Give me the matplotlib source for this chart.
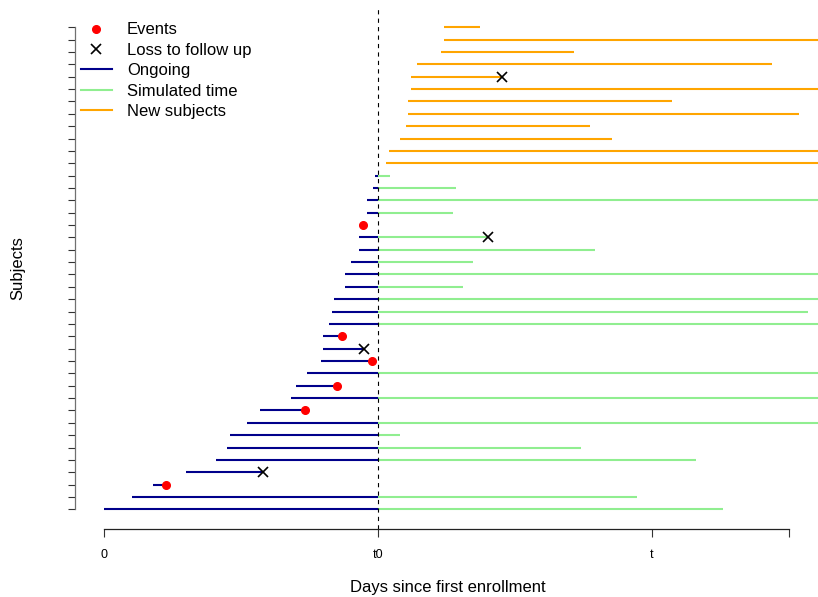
import numpy as np
import matplotlib
matplotlib.use("Agg")
import matplotlib.pyplot as plt
from matplotlib.lines import Line2D

plt.rcParams["font.family"] = ["Liberation Sans", "DejaVu Sans"]

# time axis (days since first enrollment)
t0 = 100
t_end = 200
axis_max = 250
xtick_pos = [0, t0, t_end, axis_max]
xtick_labels = ["0", "t0", "t", ""]

# subjects already enrolled at t0 (bottom row first)
obs_start = [0, 10.1, 18.0, 30.0, 41.0, 45.0, 46.0, 52.1, 57.1, 68.1,
             70.1, 74.2, 79.1, 80.0, 80.0, 82.0, 83.1, 84.1, 88.1, 88.1,
             90.0, 93.2, 93.2, 93.4, 96.1, 96.1, 98.0, 99.0]
obs_stop = [100, 100, 22.5, 58.1, 100, 100, 100, 100, 73.2, 100,
            85.2, 100, 97.7, 95.0, 87.0, 100, 100, 100, 100, 100,
            100, 100, 100, 94.6, 100, 100, 100, 100]
obs_status = ["ongoing", "ongoing", "event", "loss", "ongoing", "ongoing",
              "ongoing", "ongoing", "event", "ongoing", "event", "ongoing",
              "event", "loss", "event", "ongoing", "ongoing", "ongoing",
              "ongoing", "ongoing", "ongoing", "ongoing", "ongoing", "event",
              "ongoing", "ongoing", "ongoing", "ongoing"]
# simulated follow-up after t0 for ongoing subjects (nan = none)
sim_stop = [226.0, 194.6, np.nan, np.nan, 215.9, 174.2, 107.9, 280, np.nan, 280,
            np.nan, 280, np.nan, np.nan, np.nan, 280, 256.8, 280, 130.9, 280,
            134.7, 179.3, 140.1, np.nan, 127.4, 280, 128.5, 104.3]
sim_status = ["end"] * 22 + ["loss"] + ["end"] * 5

# new subjects enrolled after t0 (bottom row first)
new_start = [103.0, 104.1, 108.2, 110.1, 111.1, 111.1, 112.0, 112.0, 114.1,
             123.1, 124.1, 124.1]
new_stop = [280, 280, 185.3, 177.4, 253.6, 207.4, 280, 145.3, 243.9,
            171.6, 280, 137.2]
new_status = ["end"] * 7 + ["loss"] + ["end"] * 4

BLUE = "#00008B"
GREEN = "#90EE90"
ORANGE = "#FFA500"

fig = plt.figure(figsize=(8.18, 5.97), dpi=100)
ax = fig.add_axes([75 / 818, 1 - 528.6 / 597, 743 / 818, 520.6 / 597])

n_obs = len(obs_start)
n_new = len(new_start)
rows_obs = np.arange(1, n_obs + 1)
rows_new = np.arange(n_obs + 1, n_obs + n_new + 1)

lw = 1.5
for y, s, e, st in zip(rows_obs, obs_start, obs_stop, obs_status):
    ax.plot([s, e], [y, y], color=BLUE, lw=lw, solid_capstyle="butt")
for y, e, st in zip(rows_obs, sim_stop, sim_status):
    if not np.isnan(e):
        ax.plot([t0, e], [y, y], color=GREEN, lw=lw, solid_capstyle="butt")
for y, s, e in zip(rows_new, new_start, new_stop):
    ax.plot([s, e], [y, y], color=ORANGE, lw=lw, solid_capstyle="butt")

ax.axvline(t0, color="black", lw=0.8, dashes=(3.8, 3.8))

# markers
ev = [(e, y) for y, e, st in zip(rows_obs, obs_stop, obs_status) if st == "event"]
ls = [(e, y) for y, e, st in zip(rows_obs, obs_stop, obs_status) if st == "loss"]
ls += [(e, y) for y, e, st in zip(rows_obs, sim_stop, sim_status) if st == "loss"]
ls += [(e, y) for y, e, st in zip(rows_new, new_stop, new_status) if st == "loss"]
ev = np.array(ev)
ls = np.array(ls)
ax.plot(ev[:, 0], ev[:, 1], "o", color="red", ms=5.5, mec="red", zorder=5)
ax.plot(ls[:, 0], ls[:, 1], "x", color="black", ms=6.5, mew=1.2, zorder=5)

ax.set_xlim(-10.6, 260.6)
ax.set_ylim(-0.56, 41.56)

for side in ("top", "right"):
    ax.spines[side].set_visible(False)
ax.spines["left"].set_bounds(1, n_obs + n_new)
ax.spines["left"].set_color("#707070")
ax.spines["left"].set_linewidth(0.9)
ax.spines["bottom"].set_bounds(0, axis_max)
ax.spines["bottom"].set_color("#222222")
ax.spines["bottom"].set_linewidth(0.9)

ax.set_xticks(xtick_pos)
ax.set_xticklabels(xtick_labels, fontsize=9)
ax.tick_params(axis="x", direction="out", length=5.8, width=0.8, color="#333333", pad=9)
ax.set_yticks(np.arange(1, n_obs + n_new + 1))
ax.set_yticklabels([])
ax.tick_params(axis="y", direction="out", length=5, width=0.8, color="#333333")
for i, tk in enumerate(ax.yaxis.get_major_ticks()):
    if i >= n_obs:
        tk.tick1line.set_color(ORANGE)

fig.text(447.5 / 818, 1 - 592 / 597, "Days since first enrollment",
         ha="center", va="baseline", fontsize=12)
fig.text(18 / 818, 1 - 268 / 597, "Subjects", rotation=90,
         ha="center", va="center", fontsize=12)

handles = [
    Line2D([], [], ls="none", marker="o", color="red", ms=5.5),
    Line2D([], [], ls="none", marker="x", color="black", ms=6.5, mew=1.2),
    Line2D([], [], color=BLUE, lw=lw),
    Line2D([], [], color=GREEN, lw=lw),
    Line2D([], [], color=ORANGE, lw=lw),
]
labels = ["Events", "Loss to follow up", "Ongoing", "Simulated time", "New subjects"]
fig.legend(handles, labels, loc="upper left",
           bbox_to_anchor=(81 / 818, 1 - 22.5 / 597),
           frameon=False, fontsize=12, borderpad=0, borderaxespad=0,
           handlelength=1.85, handletextpad=0.9, labelspacing=0.32)

fig.savefig("out.png", dpi=100)
